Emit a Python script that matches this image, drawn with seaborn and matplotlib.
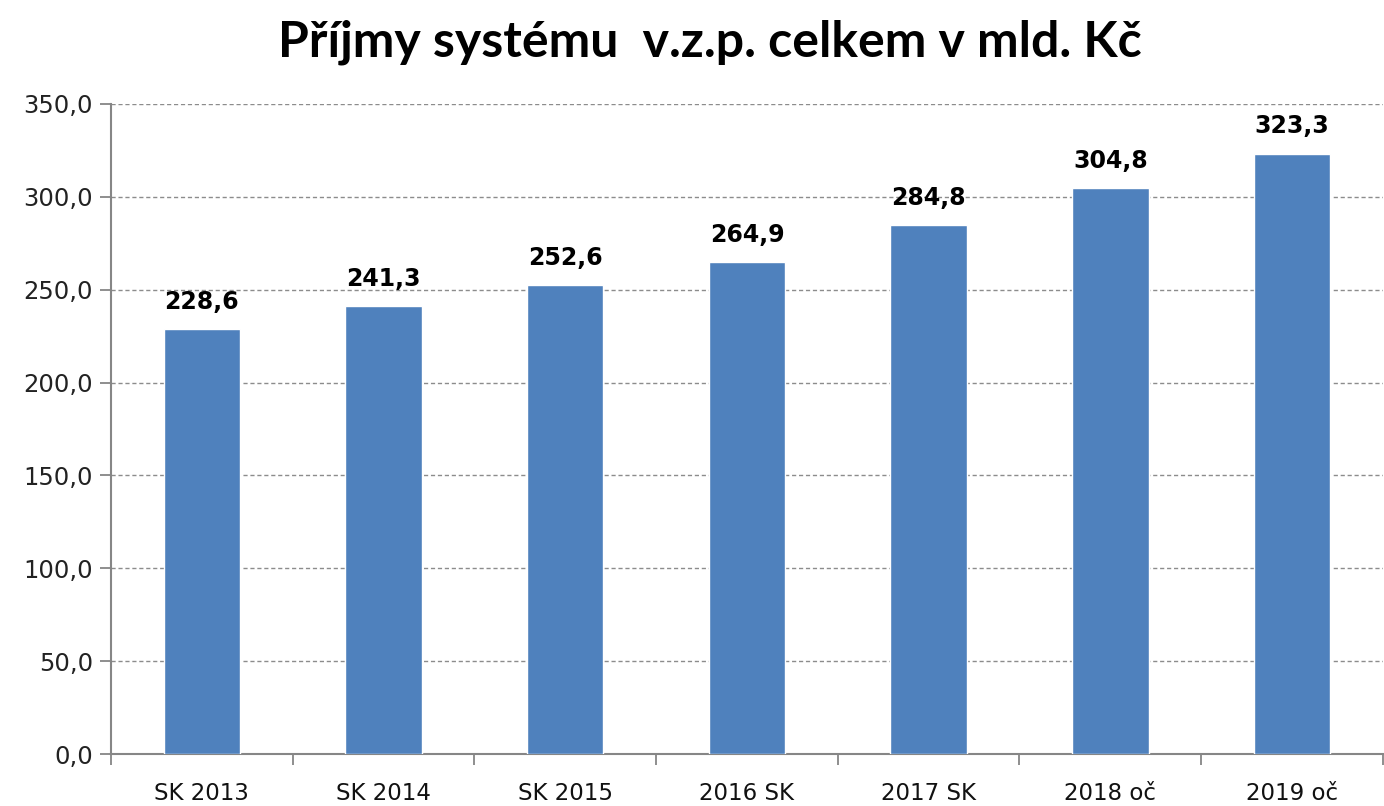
import numpy as np
import pandas as pd
import seaborn as sns
import matplotlib.pyplot as plt
from matplotlib.ticker import FixedLocator, FuncFormatter

# values
years = ["SK 2013", "SK 2014", "SK 2015", "2016 SK", "2017 SK", "2018 oč", "2019 oč"]
prijmy = [228.6, 241.3, 252.6, 264.9, 284.8, 304.8, 323.3]
y_ticks = [0, 50, 100, 150, 200, 250, 300, 350]

df = pd.DataFrame({"rok": years, "prijmy": prijmy})

sns.set_style("white")
plt.rcParams['font.family'] = ['DejaVu Sans']

fig = plt.figure(figsize=(13.84, 8.06), dpi=100)
ax = fig.add_axes([0.0802, 0.0645, 0.919, 0.8065])

sns.barplot(data=df, x="rok", y="prijmy", color="#4F81BD", width=0.42,
            saturation=1, ax=ax, zorder=3)

ax.set_ylim(0, 350)
ax.set_xlim(-0.5, len(years) - 0.5)
ax.set_yticks(y_ticks)
ax.yaxis.set_major_formatter(FuncFormatter(lambda v, p: f"{v:.1f}".replace(".", ",")))
ax.yaxis.grid(True, linestyle=(0, (3, 2)), color="#8c8c8c", linewidth=1, zorder=0)

# x ticks sit between categories, labels at centres
ax.xaxis.set_minor_locator(FixedLocator(np.arange(-0.5, len(years), 1.0)))
ax.tick_params(axis="x", which="major", bottom=True, length=0, pad=20, labelsize=16.5,
               labelcolor="#111111")
ax.tick_params(axis="x", which="minor", bottom=True, length=8, width=1.3, color="#868686")
ax.tick_params(axis="y", left=True, length=8, width=1.3, color="#868686", labelsize=17.5,
               labelcolor="#222222", pad=5)
ax.set_xlabel("")
ax.set_ylabel("")

for s in ["top", "right"]:
    ax.spines[s].set_visible(False)
for s in ["left", "bottom"]:
    ax.spines[s].set_color("#868686")
    ax.spines[s].set_linewidth(1.5)

for i, v in enumerate(prijmy):
    ax.annotate(f"{v:.1f}".replace(".", ","), (i, v), xytext=(0, 11),
                textcoords="offset points", ha="center", va="bottom",
                fontsize=17, fontweight="bold", color="black")

fig.text(0.513, 0.947, "Příjmy systému  v.z.p. celkem v mld. Kč", ha="center", va="center",
         fontsize=36, fontweight="bold", color="black", family=["Lato", "DejaVu Sans"])

fig.savefig("out.png", dpi=100)
